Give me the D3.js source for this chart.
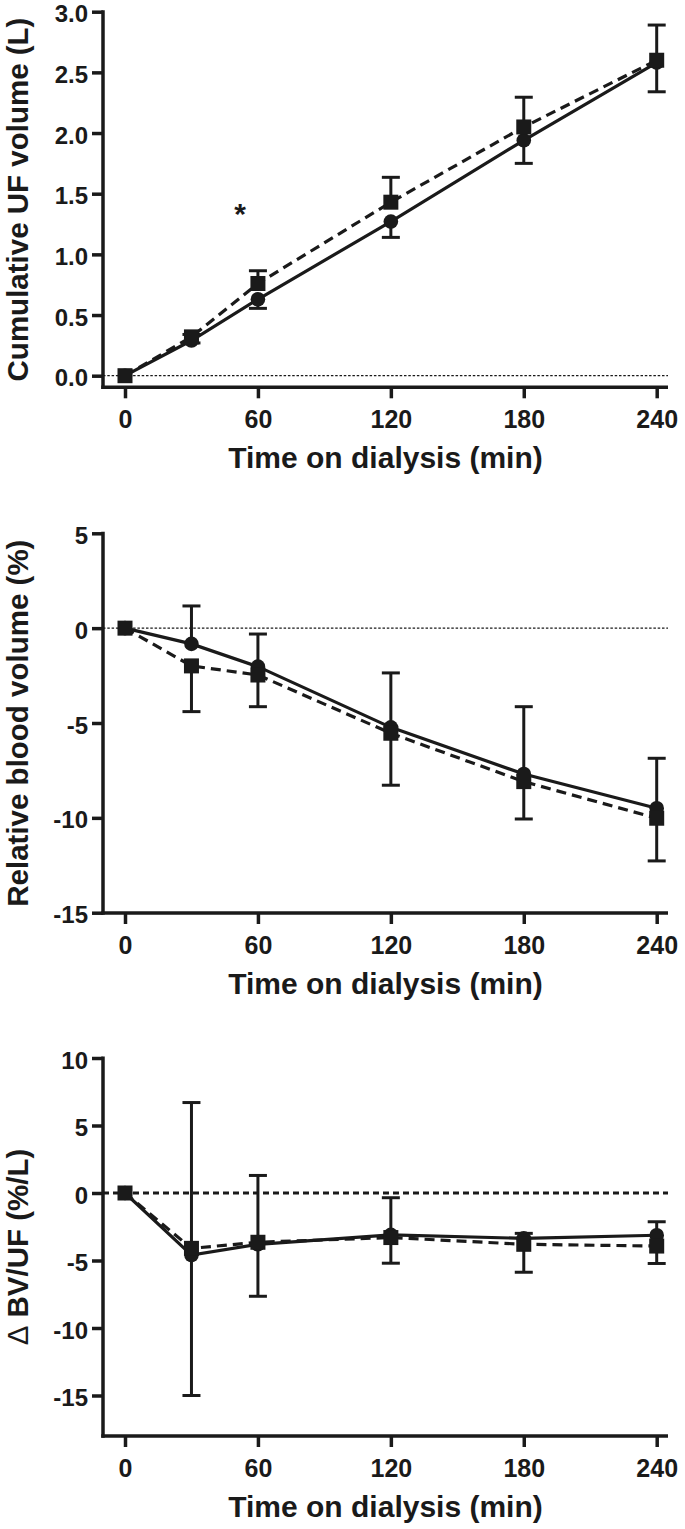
<!DOCTYPE html>
<html>
<head>
<meta charset="utf-8">
<script src="https://cdn.jsdelivr.net/npm/d3@7"></script>
<style>
  html, body { margin: 0; padding: 0; background: #fff; }
  svg { display: block; }
  text { font-family: "Liberation Sans", Arial, Helvetica, sans-serif; font-weight: bold; fill: #1a1a1a; }
</style>
</head>
<body>
<svg id="chart" width="685" height="1529"></svg>
<script>
// ---------------- data ----------------
const time = [0, 30, 60, 120, 180, 240];
const xTicks = [0, 60, 120, 180, 240];
const xLabel = "Time on dialysis (min)";

// Panel 1: cumulative UF volume (L)
const ufCircle = [0, 0.29, 0.63, 1.27, 1.94, 2.58];
const ufCircleErr = [0, 0.02, 0.075, 0.13, 0.19, 0.24];   // drawn downward
const ufSquare = [0, 0.32, 0.76, 1.43, 2.05, 2.60];
const ufSquareErr = [0, 0.02, 0.105, 0.205, 0.245, 0.29]; // drawn upward
const ufTicks = [0.0, 0.5, 1.0, 1.5, 2.0, 2.5, 3.0];
const ufLabel = "Cumulative UF volume (L)";
const ufMarkText = "*";
const ufMarkAt = [52, 1.37];

// Panel 2: relative blood volume (%)
const rbvCircle = [0, -0.83, -2.03, -5.23, -7.69, -9.49];
const rbvCircleErr = [0, 2.0, 1.72, 2.87, 3.55, 2.63];    // upward
const rbvSquare = [0, -1.99, -2.47, -5.54, -8.09, -10.02];
const rbvSquareErr = [0, 2.41, 1.67, 2.74, 1.97, 2.25];   // downward
const rbvTicks = [-15, -10, -5, 0, 5];
const rbvLabel = "Relative blood volume (%)";

// Panel 3: delta BV / UF (%/L)
const bvufCircle = [0, -4.6, -3.8, -3.1, -3.36, -3.13];
const bvufCircleErr = [0, 11.3, 5.1, 2.75, 0.37, 1.0];    // upward
const bvufSquare = [0, -4.1, -3.65, -3.3, -3.8, -3.93];
const bvufSquareErr = [0, 10.9, 4.0, 1.9, 2.07, 1.29];    // downward
const bvufTicks = [-15, -10, -5, 0, 5, 10];
const bvufLabelDelta = "\u0394";
const bvufLabelRest = " BV/UF (%/L)";

// ---------------- drawing ----------------
const svg = d3.select("#chart");
const INK = "#1a1a1a";
const x = d3.scaleLinear().domain([0, 240]).range([125, 656.7]);
const AXIS_X = 103, X_END = 668;
const intFmt = d => String(d);           // plain hyphen minus, as in the figure
const oneDec = d => d.toFixed(1);

const panels = [
  { y: d3.scaleLinear().domain([0, 3]).range([375.7, 11.7]), axisY: 387.3, top: 3,
    ticks: ufTicks, fmt: oneDec, label: ufLabel,
    circ: ufCircle, circErr: ufCircleErr, circDir: -1,
    sq: ufSquare, sqErr: ufSquareErr, sqDir: 1, zeroStyle: "thin" },
  { y: d3.scaleLinear().domain([-15, 5]).range([912.7, 533.3]), axisY: 913, top: 5,
    ticks: rbvTicks, fmt: intFmt, label: rbvLabel,
    circ: rbvCircle, circErr: rbvCircleErr, circDir: 1,
    sq: rbvSquare, sqErr: rbvSquareErr, sqDir: -1, zeroStyle: "thin" },
  { y: d3.scaleLinear().domain([-18, 10]).range([1436, 1058]), axisY: 1436, top: 10,
    ticks: bvufTicks, fmt: intFmt, label: null,
    circ: bvufCircle, circErr: bvufCircleErr, circDir: 1,
    sq: bvufSquare, sqErr: bvufSquareErr, sqDir: -1, zeroStyle: "thick" }
];

panels.forEach((p, pi) => {
  const g = svg.append("g");
  const y = p.y;

  // zero reference line
  g.append("line")
    .attr("x1", AXIS_X).attr("x2", X_END)
    .attr("y1", y(0)).attr("y2", y(0))
    .attr("stroke", INK)
    .attr("stroke-width", p.zeroStyle === "thin" ? 1.3 : 3)
    .attr("stroke-dasharray", p.zeroStyle === "thin" ? "2.5,1.8" : "6,4");

  // y axis
  const yAxis = d3.axisLeft(y).tickValues(p.ticks).tickFormat(p.fmt).tickSize(11).tickPadding(4);
  const ya = g.append("g").attr("transform", `translate(${AXIS_X},0)`).call(yAxis);
  ya.select(".domain").remove();
  ya.selectAll(".tick line").attr("stroke", INK).attr("stroke-width", 3.5);
  ya.selectAll(".tick text").attr("font-size", 24).attr("fill", INK)
    .attr("font-family", "'Liberation Sans', Arial, sans-serif").attr("font-weight", "bold")
    .attr("dy", "0.42em");
  g.append("line").attr("x1", AXIS_X).attr("x2", AXIS_X)
    .attr("y1", y(p.top) - 1.5).attr("y2", p.axisY + 1.75)
    .attr("stroke", INK).attr("stroke-width", 3.5);

  // x axis
  const xAxis = d3.axisBottom(x).tickValues(xTicks).tickFormat(intFmt).tickSize(11).tickPadding(12);
  const xa = g.append("g").attr("transform", `translate(0,${p.axisY})`).call(xAxis);
  xa.select(".domain").remove();
  xa.selectAll(".tick line").attr("stroke", INK).attr("stroke-width", 3.5);
  xa.selectAll(".tick text").attr("font-size", 25).attr("fill", INK)
    .attr("font-family", "'Liberation Sans', Arial, sans-serif").attr("font-weight", "bold");
  g.append("line").attr("x1", AXIS_X - 1.75).attr("x2", X_END)
    .attr("y1", p.axisY).attr("y2", p.axisY)
    .attr("stroke", INK).attr("stroke-width", 3.5);

  // axis titles
  g.append("text").attr("x", (AXIS_X + X_END) / 2).attr("y", p.axisY + 81)
    .attr("text-anchor", "middle").attr("font-size", 30).text(xLabel);
  const cy = (y(p.top) + p.axisY) / 2;
  const yt = g.append("text").attr("transform", `translate(27.5,${cy}) rotate(-90)`)
    .attr("text-anchor", "middle").attr("font-size", 29.5);
  if (p.label) yt.text(p.label);
  else {
    yt.append("tspan").attr("font-weight", "normal").text(bvufLabelDelta);
    yt.append("tspan").text(bvufLabelRest);
  }

  // lines
  const line = d3.line().x((d, i) => x(time[i])).y(d => y(d));
  g.append("path").datum(p.circ).attr("d", line).attr("fill", "none")
    .attr("stroke", INK).attr("stroke-width", 3.2);
  g.append("path").datum(p.sq).attr("d", line).attr("fill", "none")
    .attr("stroke", INK).attr("stroke-width", 3.2).attr("stroke-dasharray", "10,6");

  // error bars
  function errBars(vals, errs, dir) {
    vals.forEach((v, i) => {
      if (!errs[i]) return;
      const end = v + dir * errs[i];
      g.append("line").attr("x1", x(time[i])).attr("x2", x(time[i]))
        .attr("y1", y(v)).attr("y2", y(end)).attr("stroke", INK).attr("stroke-width", 3);
      g.append("line").attr("x1", x(time[i]) - 9).attr("x2", x(time[i]) + 9)
        .attr("y1", y(end)).attr("y2", y(end)).attr("stroke", INK).attr("stroke-width", 3);
    });
  }
  errBars(p.circ, p.circErr, p.circDir);
  errBars(p.sq, p.sqErr, p.sqDir);

  // markers
  g.selectAll("circle.m").data(p.circ).enter().append("circle")
    .attr("cx", (d, i) => x(time[i])).attr("cy", d => y(d)).attr("r", 7.3).attr("fill", INK);
  const s = 15;
  g.selectAll("rect.m").data(p.sq).enter().append("rect")
    .attr("x", (d, i) => x(time[i]) - s / 2).attr("y", d => y(d) - s / 2)
    .attr("width", s).attr("height", s).attr("fill", INK);

  if (pi === 0) {
    g.append("text").attr("x", x(ufMarkAt[0])).attr("y", y(ufMarkAt[1]) + 15)
      .attr("text-anchor", "middle").attr("font-size", 30).attr("font-weight", "normal").text(ufMarkText);
  }
});
</script>
</body>
</html>
